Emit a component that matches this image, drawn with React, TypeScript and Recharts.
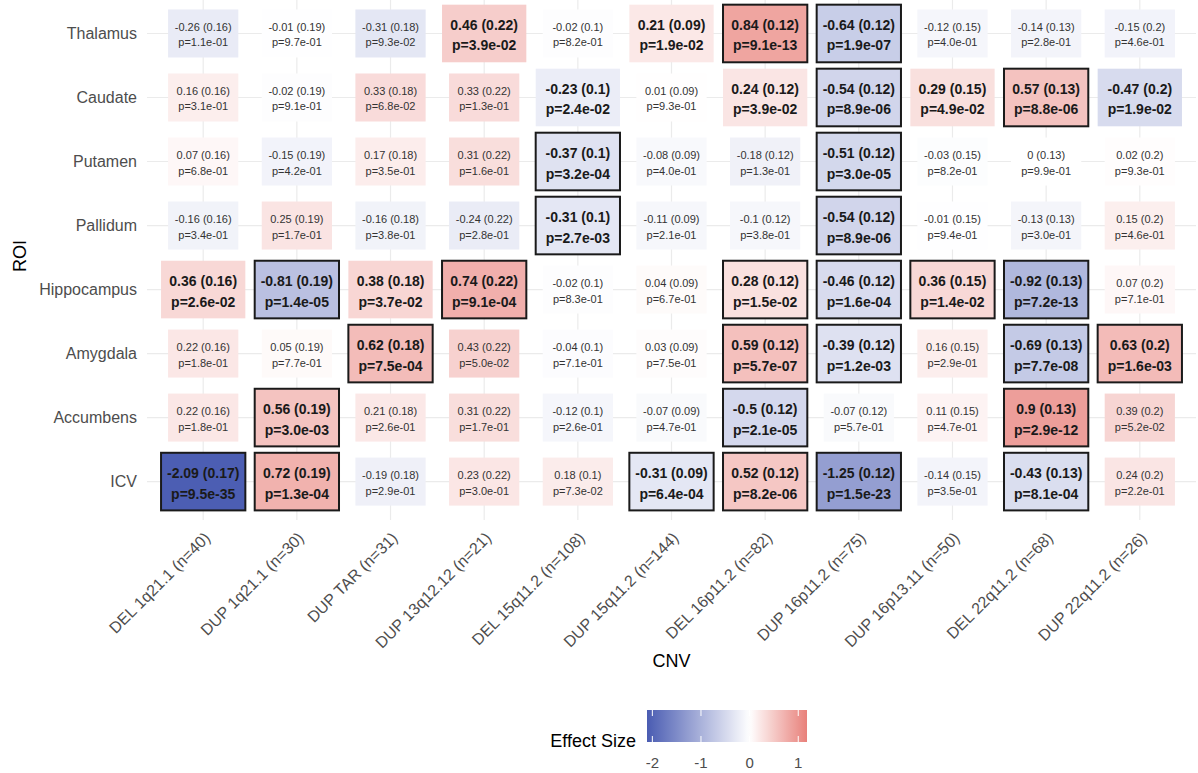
import React from 'react';
import { ScatterChart, Scatter, XAxis, YAxis, CartesianGrid } from 'recharts';

const cnvLabels = [
  'DEL 1q21.1 (n=40)',
  'DUP 1q21.1 (n=30)',
  'DUP TAR (n=31)',
  'DUP 13q12.12 (n=21)',
  'DEL 15q11.2 (n=108)',
  'DUP 15q11.2 (n=144)',
  'DEL 16p11.2 (n=82)',
  'DUP 16p11.2 (n=75)',
  'DUP 16p13.11 (n=50)',
  'DEL 22q11.2 (n=68)',
  'DUP 22q11.2 (n=26)',
];

const roiLabels = ['Thalamus', 'Caudate', 'Putamen', 'Pallidum', 'Hippocampus', 'Amygdala', 'Accumbens', 'ICV'];

// rows = ROI, columns = CNV
const effectSize: number[][] = [
  [-0.26, -0.01, -0.31, 0.46, -0.02, 0.21, 0.84, -0.64, -0.12, -0.14, -0.15],
  [0.16, -0.02, 0.33, 0.33, -0.23, 0.01, 0.24, -0.54, 0.29, 0.57, -0.47],
  [0.07, -0.15, 0.17, 0.31, -0.37, -0.08, -0.18, -0.51, -0.03, 0, 0.02],
  [-0.16, 0.25, -0.16, -0.24, -0.31, -0.11, -0.1, -0.54, -0.01, -0.13, 0.15],
  [0.36, -0.81, 0.38, 0.74, -0.02, 0.04, 0.28, -0.46, 0.36, -0.92, 0.07],
  [0.22, 0.05, 0.62, 0.43, -0.04, 0.03, 0.59, -0.39, 0.16, -0.69, 0.63],
  [0.22, 0.56, 0.21, 0.31, -0.12, -0.07, -0.5, -0.07, 0.11, 0.9, 0.39],
  [-2.09, 0.72, -0.19, 0.23, 0.18, -0.31, 0.52, -1.25, -0.14, -0.43, 0.24],
];

const standardError: number[][] = [
  [0.16, 0.19, 0.18, 0.22, 0.1, 0.09, 0.12, 0.12, 0.15, 0.13, 0.2],
  [0.16, 0.19, 0.18, 0.22, 0.1, 0.09, 0.12, 0.12, 0.15, 0.13, 0.2],
  [0.16, 0.19, 0.18, 0.22, 0.1, 0.09, 0.12, 0.12, 0.15, 0.13, 0.2],
  [0.16, 0.19, 0.18, 0.22, 0.1, 0.09, 0.12, 0.12, 0.15, 0.13, 0.2],
  [0.16, 0.19, 0.18, 0.22, 0.1, 0.09, 0.12, 0.12, 0.15, 0.13, 0.2],
  [0.16, 0.19, 0.18, 0.22, 0.1, 0.09, 0.12, 0.12, 0.15, 0.13, 0.2],
  [0.16, 0.19, 0.18, 0.22, 0.1, 0.09, 0.12, 0.12, 0.15, 0.13, 0.2],
  [0.17, 0.19, 0.18, 0.22, 0.1, 0.09, 0.12, 0.12, 0.15, 0.13, 0.2],
];

const pValue: number[][] = [
  [1.1e-1, 9.7e-1, 9.3e-2, 3.9e-2, 8.2e-1, 1.9e-2, 9.1e-13, 1.9e-7, 4.0e-1, 2.8e-1, 4.6e-1],
  [3.1e-1, 9.1e-1, 6.8e-2, 1.3e-1, 2.4e-2, 9.3e-1, 3.9e-2, 8.9e-6, 4.9e-2, 8.8e-6, 1.9e-2],
  [6.8e-1, 4.2e-1, 3.5e-1, 1.6e-1, 3.2e-4, 4.0e-1, 1.3e-1, 3.0e-5, 8.2e-1, 9.9e-1, 9.3e-1],
  [3.4e-1, 1.7e-1, 3.8e-1, 2.8e-1, 2.7e-3, 2.1e-1, 3.8e-1, 8.9e-6, 9.4e-1, 3.0e-1, 4.6e-1],
  [2.6e-2, 1.4e-5, 3.7e-2, 9.1e-4, 8.3e-1, 6.7e-1, 1.5e-2, 1.6e-4, 1.4e-2, 7.2e-13, 7.1e-1],
  [1.8e-1, 7.7e-1, 7.5e-4, 5.0e-2, 7.1e-1, 7.5e-1, 5.7e-7, 1.2e-3, 2.9e-1, 7.7e-8, 1.6e-3],
  [1.8e-1, 3.0e-3, 2.6e-1, 1.7e-1, 2.6e-1, 4.7e-1, 2.1e-5, 5.7e-1, 4.7e-1, 2.9e-12, 5.2e-2],
  [9.5e-35, 1.3e-4, 2.9e-1, 3.0e-1, 7.3e-2, 6.4e-4, 8.2e-6, 1.5e-23, 3.5e-1, 8.1e-4, 2.2e-1],
];

// 1 = significant after correction (outlined tile)
const corrected: number[][] = [
  [0, 0, 0, 0, 0, 0, 1, 1, 0, 0, 0],
  [0, 0, 0, 0, 0, 0, 0, 1, 0, 1, 0],
  [0, 0, 0, 0, 1, 0, 0, 1, 0, 0, 0],
  [0, 0, 0, 0, 1, 0, 0, 1, 0, 0, 0],
  [0, 1, 0, 1, 0, 0, 1, 1, 1, 1, 0],
  [0, 0, 1, 0, 0, 0, 1, 1, 0, 1, 1],
  [0, 1, 0, 0, 0, 0, 1, 0, 0, 1, 0],
  [1, 1, 0, 0, 0, 1, 1, 1, 0, 1, 0],
];

const xTicks = [0, 1, 2, 3, 4, 5, 6, 7, 8, 9, 10];
const yTicks = [0, 1, 2, 3, 4, 5, 6, 7];
const legendTicks = [-2, -1, 0, 1];
const legendDomain = [-2.11, 1.18];

// ---- layout ----
const W = 1198;
const H = 773;
const PLOT_LEFT = 147;
const PLOT_RIGHT = 2;
const X_AXIS_H = 253;
const PLOT_W = W - PLOT_LEFT - PLOT_RIGHT;
const PLOT_H = H - X_AXIS_H;
const X_DOMAIN: [number, number] = [-0.6, 10.6];
const Y_DOMAIN: [number, number] = [-0.523, 7.6];
const UX = PLOT_W / (X_DOMAIN[1] - X_DOMAIN[0]);
const UY = PLOT_H / (Y_DOMAIN[1] - Y_DOMAIN[0]);

const LOW = [74, 92, 178];
const HIGH = [232, 128, 122];
function mix(c: number[], t: number) {
  const tt = Math.max(0, Math.min(1, t));
  const r = Math.round(255 + (c[0] - 255) * tt);
  const g = Math.round(255 + (c[1] - 255) * tt);
  const b = Math.round(255 + (c[2] - 255) * tt);
  return `rgb(${r},${g},${b})`;
}
function fillFor(v: number) {
  if (v < 0) return mix(LOW, v / legendDomain[0]);
  return mix(HIGH, v / legendDomain[1]);
}
function fmtP(p: number) {
  const s = p.toExponential(1);
  const [m, e] = s.split('e');
  const sign = e[0] === '-' ? '-' : '+';
  const digits = e.replace(/[+-]/, '').padStart(2, '0');
  return `${m}e${sign}${digits}`;
}

const points: any[] = [];
roiLabels.forEach((roi, r) => {
  cnvLabels.forEach((cnv, c) => {
    points.push({
      x: c,
      y: r,
      effect: effectSize[r][c],
      se: standardError[r][c],
      p: pValue[r][c],
      fdr: corrected[r][c] === 1,
    });
  });
});

const FONT = '"Liberation Sans", Arial, Helvetica, sans-serif';

const Tile = (props: any) => {
  const { cx, cy, payload } = props;
  if (cx == null || cy == null || !payload) return null;
  const sig = payload.p < 0.05;
  const size = sig ? 0.9 : 0.75;
  const w = size * UX;
  const h = size * UY;
  const line1 = `${payload.effect} (${payload.se})`;
  const line2 = `p=${fmtP(payload.p)}`;
  return (
    <g>
      <rect
        x={cx - w / 2}
        y={cy - h / 2}
        width={w}
        height={h}
        fill={fillFor(payload.effect)}
        stroke={payload.fdr ? '#1a1a1a' : 'none'}
        strokeWidth={payload.fdr ? 2 : 0}
      />
      <text x={cx} y={cy + (sig ? -8.5 : -6.5)} textAnchor="middle" dominantBaseline="central"
        fontFamily={FONT} fontSize={sig ? 14 : 11} fontWeight={sig ? 'bold' : 'normal'}
        fill={sig ? '#1a1a1a' : '#333333'}>
        {line1}
      </text>
      <text x={cx} y={cy + (sig ? 12 : 9)} textAnchor="middle" dominantBaseline="central"
        fontFamily={FONT} fontSize={sig ? 14 : 11} fontWeight={sig ? 'bold' : 'normal'}
        fill={sig ? '#1a1a1a' : '#333333'}>
        {line2}
      </text>
    </g>
  );
};

const XTick = (props: any) => {
  const { x, payload } = props;
  const ax = x + 8;
  const ay = PLOT_H + 19;
  return (
    <text x={ax} y={ay} textAnchor="end" fontFamily={FONT} fontSize={16} fill="#4d4d4d"
      transform={`rotate(-45, ${ax}, ${ay})`}>
      {cnvLabels[payload.value]}
    </text>
  );
};

const YTick = (props: any) => {
  const { y, payload } = props;
  return (
    <text x={PLOT_LEFT - 10} y={y} textAnchor="end" dominantBaseline="central"
      fontFamily={FONT} fontSize={16} fill="#4d4d4d">
      {roiLabels[payload.value]}
    </text>
  );
};

const LEG_X0 = 647;
const LEG_X1 = 807;
const LEG_Y0 = 710;
const LEG_Y1 = 742;

function legendX(v: number) {
  return LEG_X0 + ((v - legendDomain[0]) / (legendDomain[1] - legendDomain[0])) * (LEG_X1 - LEG_X0);
}

const gradientStops: number[] = [];
for (let i = 0; i <= 40; i++) gradientStops.push(i / 40);

const verticalPoints = xTicks.map((t) => PLOT_LEFT + (t - X_DOMAIN[0]) * UX);
const horizontalPoints = yTicks.map((t) => (t - Y_DOMAIN[0]) * UY);

export default function App() {
  return (
    <div style={{ position: 'absolute', left: 0, top: 0, width: W, height: H, background: '#ffffff' }}>
      <ScatterChart width={W} height={H} margin={{ top: 0, right: PLOT_RIGHT, bottom: 0, left: 0 }}>
        <CartesianGrid stroke="#ebebeb" strokeWidth={1.2}
          verticalPoints={verticalPoints} horizontalPoints={horizontalPoints} />
        <XAxis type="number" dataKey="x" domain={X_DOMAIN} ticks={xTicks} interval={0}
          height={X_AXIS_H} axisLine={false} tickLine={false} tick={<XTick />} allowDataOverflow />
        <YAxis type="number" dataKey="y" domain={Y_DOMAIN} reversed ticks={yTicks} interval={0}
          width={PLOT_LEFT} axisLine={false} tickLine={false} tick={<YTick />} allowDataOverflow />
        <Scatter data={points} shape={<Tile />} isAnimationActive={false} />
      </ScatterChart>
      <svg width={W} height={H} style={{ position: 'absolute', left: 0, top: 0, pointerEvents: 'none' }}>
        <defs>
          <linearGradient id="legGrad" x1="0" y1="0" x2="1" y2="0">
            {gradientStops.map((t) => (
              <stop key={t} offset={t}
                stopColor={fillFor(legendDomain[0] + t * (legendDomain[1] - legendDomain[0]))} />
            ))}
          </linearGradient>
        </defs>
        <text x={20} y={256} textAnchor="middle" dominantBaseline="central" fontFamily={FONT}
          fontSize={18} fill="#000" transform="rotate(-90, 20, 256)">
          ROI
        </text>
        <text x={PLOT_LEFT + PLOT_W / 2} y={661} textAnchor="middle" dominantBaseline="central"
          fontFamily={FONT} fontSize={18} fill="#000">
          CNV
        </text>
        <text x={636} y={741} textAnchor="end" dominantBaseline="central" fontFamily={FONT}
          fontSize={18} fill="#000">
          Effect Size
        </text>
        <rect x={LEG_X0} y={LEG_Y0} width={LEG_X1 - LEG_X0} height={LEG_Y1 - LEG_Y0} fill="url(#legGrad)" />
        {legendTicks.map((t) => (
          <g key={t}>
            <line x1={legendX(t)} x2={legendX(t)} y1={LEG_Y0} y2={LEG_Y0 + 6} stroke="#ffffff" strokeWidth={1} />
            <line x1={legendX(t)} x2={legendX(t)} y1={LEG_Y1 - 6} y2={LEG_Y1} stroke="#ffffff" strokeWidth={1} />
            <text x={legendX(t)} y={762} textAnchor="middle" dominantBaseline="central"
              fontFamily={FONT} fontSize={15} fill="#4d4d4d">
              {t}
            </text>
          </g>
        ))}
      </svg>
    </div>
  );
}
